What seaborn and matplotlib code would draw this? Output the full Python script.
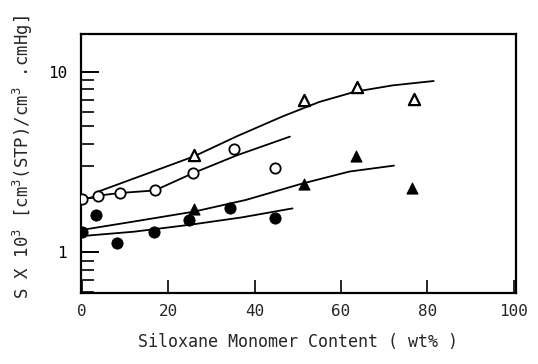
import matplotlib
matplotlib.use("Agg")
import matplotlib.pyplot as plt
import seaborn as sns
import pandas as pd

# ---- data ----
open_circle_x = [0, 3.8, 8.8, 16.9, 25.7, 35.3, 44.7]
open_circle_y = [1.97, 2.06, 2.13, 2.20, 2.74, 3.75, 2.92]

open_tri_x = [26, 51.5, 63.8, 77]
open_tri_y = [3.46, 6.97, 8.26, 7.08]

filled_circle_x = [0, 3.3, 8.1, 16.6, 24.8, 34.4, 44.7]
filled_circle_y = [1.29, 1.61, 1.12, 1.30, 1.50, 1.77, 1.55]

filled_tri_x = [26, 51.5, 63.6, 76.5]
filled_tri_y = [1.73, 2.38, 3.41, 2.26]

# fitted curves
curve_open_circle_x = [0, 3.8, 8.8, 16.9, 25.7, 36, 48.2]
curve_open_circle_y = [1.95, 2.06, 2.13, 2.20, 2.74, 3.45, 4.37]

curve_open_tri_x = [3.6, 15, 26, 36, 46.3, 55, 63.3, 72, 81.5]
curve_open_tri_y = [2.16, 2.72, 3.40, 4.40, 5.63, 6.80, 7.75, 8.40, 8.88]

curve_filled_tri_x = [0, 12, 26, 38, 51, 62, 72.3]
curve_filled_tri_y = [1.33, 1.48, 1.68, 1.95, 2.40, 2.80, 3.02]

curve_filled_circle_x = [0, 12, 25, 37, 48.8]
curve_filled_circle_y = [1.23, 1.30, 1.42, 1.56, 1.75]

x_ticks = [0, 20, 40, 60, 80, 100]
y_major = [1, 10]
y_minor = [0.6, 0.7, 0.8, 0.9, 2, 3, 4, 5, 6, 7, 8, 9]

sns.set_style("ticks")
plt.rcParams["font.family"] = ["DejaVu Sans Mono", "DejaVu Sans"]
plt.rcParams["mathtext.fontset"] = "custom"
plt.rcParams["mathtext.rm"] = "DejaVu Sans Mono"

fig = plt.figure(figsize=(5.38, 3.64), dpi=100)
ax = fig.add_axes([0.1506, 0.195, 0.808, 0.712])

for cx, cy in [(curve_open_tri_x, curve_open_tri_y),
               (curve_open_circle_x, curve_open_circle_y),
               (curve_filled_tri_x, curve_filled_tri_y),
               (curve_filled_circle_x, curve_filled_circle_y)]:
    sns.lineplot(x=cx, y=cy, ax=ax, color="black", linewidth=1.3, sort=False)

ms_c = 55
ms_t = 65
sns.scatterplot(x=open_tri_x, y=open_tri_y, ax=ax, marker="^", s=ms_t,
                facecolor="white", edgecolor="black", linewidth=1.6, zorder=5)
sns.scatterplot(x=open_circle_x, y=open_circle_y, ax=ax, marker="o", s=ms_c,
                facecolor="white", edgecolor="black", linewidth=1.3, zorder=5)
sns.scatterplot(x=filled_tri_x, y=filled_tri_y, ax=ax, marker="^", s=ms_t,
                color="black", edgecolor="black", zorder=5)
sns.scatterplot(x=filled_circle_x, y=filled_circle_y, ax=ax, marker="o", s=ms_c + 10,
                color="black", edgecolor="black", zorder=5)

ax.set_yscale("log")
ax.set_xlim(-0.2, 100.5)
ax.set_ylim(0.595, 16.2)
ax.set_xticks(x_ticks)
ax.set_xticklabels([str(t) for t in x_ticks])
ax.set_yticks(y_major)
ax.set_yticklabels(["1", "10"])
ax.set_yticks(y_minor, minor=True)
ax.set_yticklabels([], minor=True)
ax.xaxis.set_minor_locator(matplotlib.ticker.NullLocator())

ax.tick_params(axis="y", which="major", direction="in", length=13, width=1.4,
               labelsize=11.5, pad=10, colors="black")
ax.tick_params(axis="y", which="minor", direction="in", length=9.5, width=1.4)
ax.tick_params(axis="x", which="major", direction="in", length=9.5, width=1.4,
               labelsize=11.5, pad=8)

for sp in ax.spines.values():
    sp.set_visible(True)
    sp.set_linewidth(1.6)
    sp.set_color("black")

ax.set_xlabel("Siloxane Monomer Content ( wt% )", fontsize=12, labelpad=10)
ax.set_ylabel("S X 10$^{3}$ [cm$^{3}$(STP)/cm$^{3}$ .cmHg]", fontsize=12.5)
ax.yaxis.set_label_coords(-0.106, 0.525)

fig.savefig("out.png", dpi=100)
